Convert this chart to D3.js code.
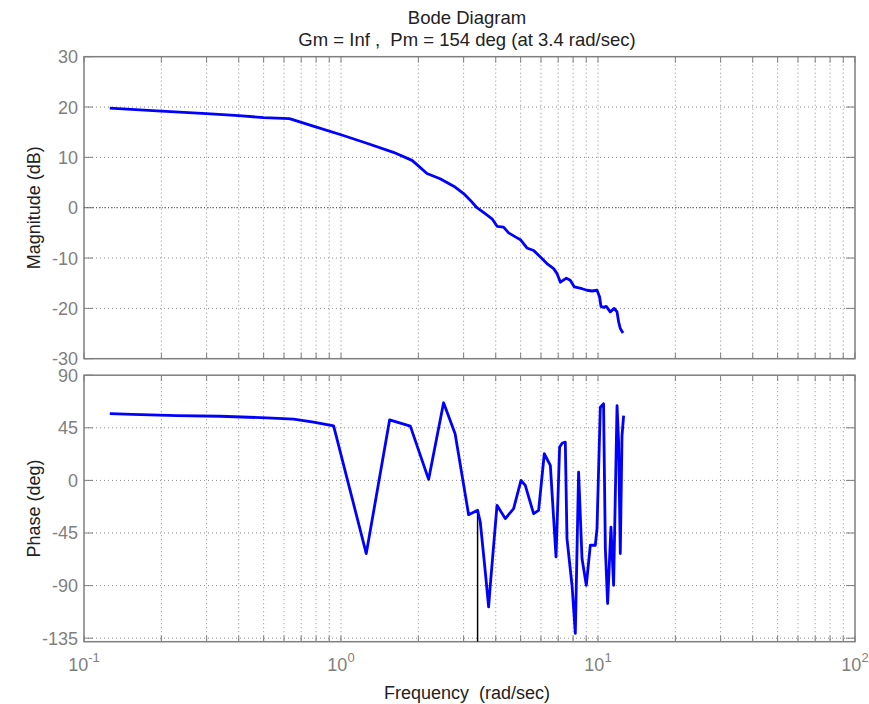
<!DOCTYPE html>
<html>
<head>
<meta charset="utf-8">
<script src="https://cdn.jsdelivr.net/npm/d3@7/dist/d3.min.js"></script>
<style>
  body { margin: 0; background: #fff; }
  svg text { font-family: "Liberation Sans", Arial, Helvetica, sans-serif; }
</style>
</head>
<body>
<div id="chart"></div>
<script>
// magnitude response (rad/sec, dB)
var magFreq = [0.126, 0.2, 0.3, 0.4, 0.5, 0.63, 0.78, 1.0, 1.26, 1.6, 1.89, 1.98, 2.16, 2.43, 2.78, 3.0,
  3.19, 3.38, 3.64, 3.87, 4.05, 4.29, 4.49, 4.77, 4.99, 5.29, 5.62, 5.97, 6.33, 6.72, 6.93, 7.14,
  7.53, 7.8, 8.09, 8.67, 9.06, 9.48, 9.91, 10.14, 10.27, 10.51, 10.77, 11.16, 11.57, 11.86, 12.03,
  12.21, 12.51];
var magDb = [19.8, 19.2, 18.7, 18.3, 17.9, 17.7, 16.2, 14.5, 12.8, 11.0, 9.4, 8.5, 6.8, 5.75, 4.1, 2.8,
  1.45, 0.0, -1.2, -2.2, -3.7, -3.85, -5.0, -5.8, -6.35, -8.0, -8.5, -9.8, -11.1, -12.1, -13.1, -14.8,
  -14.0, -14.4, -15.75, -16.1, -16.4, -16.55, -16.4, -17.7, -19.6, -19.8, -19.6, -20.7, -20.0, -20.7,
  -22.7, -24.0, -24.9];

// phase response (rad/sec, deg)
var phaseFreq = [0.126, 0.154, 0.23, 0.339, 0.515, 0.654, 0.782, 0.936, 1.254, 1.546, 1.861, 2.192,
  2.507, 2.78, 3.137, 3.401, 3.483, 3.643, 3.753, 3.81, 4.046, 4.358, 4.695, 5.016, 5.213, 5.616,
  5.874, 6.18, 6.525, 6.865, 7.09, 7.264, 7.46, 7.574, 7.923, 8.161, 8.404, 8.665, 9.005, 9.333,
  9.761, 9.91, 10.21, 10.51, 10.68, 10.9, 11.23, 11.5, 11.86, 12.03, 12.21, 12.4, 12.58];
var phaseDeg = [57.2, 56.4, 55.5, 54.9, 53.5, 52.4, 49.8, 46.7, -62.6, 51.8, 46.4, 0.85,
  66.4, 39.9, -29.3, -25.6, -35.6, -78.3, -108.2, -89.7, -21.3, -32.7, -24.2, 0, -4.3, -28.5,
  -25.6, 22.8, 12.8, -65.5, 28.5, 32, 32.7, -49.8, -89.7, -130.9, 7.1, -66.9, -89.7, -55.5,
  -55.5, -41.3, 62.6, 65.5, -58.3, -105.3, -39.9, -89.7, 64, 32.7, -62.6, 38.4, 55.5];

// stability margins
var crossFreq = 3.4;
var crossPhase = -26;

var magTicks = [-30, -20, -10, 0, 10, 20, 30];
var phaseTicks = [-135, -90, -45, 0, 45, 90];
var decades = [0.1, 1, 10, 100];
var decadeExp = ["-1", "0", "1", "2"];

var W = 869, H = 704;
var left = 84, right = 855;
var axisCol = "#7f7f7f";
var gridCol = "#8c8c8c";

var svg = d3.select("#chart").append("svg")
  .attr("width", W)
  .attr("height", H);

var x = d3.scaleLog().domain([0.1, 100]).range([left, right]);
var yMag = d3.scaleLinear().domain([-30, 30]).range([358.7, 56.7]);
var yPh = d3.scaleLinear().domain([-138, 90]).range([641.7, 375.2]);

var logTicks = x.ticks();

function panel(y, yTicks, fDat, vDat) {
  var top = y.range()[1], bottom = y.range()[0];
  var g = svg.append("g");

  // grid
  g.selectAll(".vgrid").data(logTicks.filter(function(d) { return d > 0.1 && d < 100; }))
    .enter().append("line")
    .attr("x1", function(d) { return x(d); })
    .attr("x2", function(d) { return x(d); })
    .attr("y1", top).attr("y2", bottom)
    .attr("stroke", gridCol).attr("stroke-width", 1)
    .attr("stroke-dasharray", "1,3");

  g.selectAll(".hgrid").data(yTicks.filter(function(d) { return y(d) > top + 1 && y(d) < bottom - 1; }))
    .enter().append("line")
    .attr("x1", left).attr("x2", right)
    .attr("y1", function(d) { return y(d); })
    .attr("y2", function(d) { return y(d); })
    .attr("stroke", gridCol).attr("stroke-width", 1)
    .attr("stroke-dasharray", "1,3");

  // ticks, inward on every side
  logTicks.forEach(function(d) {
    g.append("line").attr("x1", x(d)).attr("x2", x(d))
      .attr("y1", bottom).attr("y2", bottom - 6).attr("stroke", axisCol);
    g.append("line").attr("x1", x(d)).attr("x2", x(d))
      .attr("y1", top).attr("y2", top + 6).attr("stroke", axisCol);
  });
  yTicks.forEach(function(d) {
    g.append("line").attr("x1", left).attr("x2", left + 9)
      .attr("y1", y(d)).attr("y2", y(d)).attr("stroke", axisCol);
    g.append("line").attr("x1", right).attr("x2", right - 9)
      .attr("y1", y(d)).attr("y2", y(d)).attr("stroke", axisCol);
  });

  g.selectAll(".ylab").data(yTicks).enter().append("text")
    .attr("x", left - 6)
    .attr("y", function(d) { return y(d); })
    .attr("dy", "0.36em")
    .attr("text-anchor", "end")
    .attr("font-size", 18)
    .attr("fill", axisCol)
    .text(function(d) { return d; });

  // box
  g.append("rect")
    .attr("x", left).attr("y", top)
    .attr("width", right - left).attr("height", bottom - top)
    .attr("fill", "none").attr("stroke", axisCol).attr("stroke-width", 1.5);

  var line = d3.line()
    .x(function(d) { return x(d[0]); })
    .y(function(d) { return y(d[1]); });

  return { g: g, line: line, data: d3.zip(fDat, vDat) };
}

var mag = panel(yMag, magTicks, magFreq, magDb);
var ph = panel(yPh, phaseTicks, phaseFreq, phaseDeg);

// 0 dB reference line
mag.g.append("line")
  .attr("x1", left).attr("x2", right)
  .attr("y1", yMag(0)).attr("y2", yMag(0))
  .attr("stroke", "#555").attr("stroke-width", 1)
  .attr("stroke-dasharray", "1,2");

// phase margin marker
ph.g.append("line")
  .attr("x1", x(crossFreq)).attr("x2", x(crossFreq))
  .attr("y1", yPh(crossPhase)).attr("y2", yPh(-138))
  .attr("stroke", "#000").attr("stroke-width", 1.5);

mag.g.append("path").datum(mag.data)
  .attr("d", mag.line)
  .attr("fill", "none").attr("stroke", "#0000ff")
  .attr("stroke-width", 2.8).attr("stroke-linejoin", "round");

ph.g.append("path").datum(ph.data)
  .attr("d", ph.line)
  .attr("fill", "none").attr("stroke", "#0000ff")
  .attr("stroke-width", 2.8).attr("stroke-linejoin", "round");

// x tick labels 10^n
decades.forEach(function(d, i) {
  var t = svg.append("text")
    .attr("x", x(d))
    .attr("y", 671)
    .attr("text-anchor", "middle")
    .attr("fill", axisCol)
    .attr("font-size", 18);
  t.append("tspan").text("10");
  t.append("tspan").attr("dy", -9).attr("font-size", 13).text(decadeExp[i]);
});

// titles and labels
svg.append("text")
  .attr("x", 467).attr("y", 24)
  .attr("text-anchor", "middle")
  .attr("font-size", 18.5).attr("fill", "#222")
  .text("Bode Diagram");

svg.append("text")
  .attr("x", 467).attr("y", 46)
  .attr("text-anchor", "middle")
  .attr("font-size", 18.5).attr("fill", "#222")
  .style("white-space", "pre")
  .text("Gm = Inf ,  Pm = 154 deg (at 3.4 rad/sec)");

svg.append("text")
  .attr("transform", "translate(40," + ((56.7 + 358.7) / 2) + ") rotate(-90)")
  .attr("text-anchor", "middle")
  .attr("font-size", 18).attr("fill", "#222")
  .text("Magnitude (dB)");

svg.append("text")
  .attr("transform", "translate(40," + ((375.2 + 641.7) / 2) + ") rotate(-90)")
  .attr("text-anchor", "middle")
  .attr("font-size", 18).attr("fill", "#222")
  .text("Phase (deg)");

svg.append("text")
  .attr("x", 467).attr("y", 699)
  .attr("text-anchor", "middle")
  .attr("font-size", 18).attr("fill", "#222")
  .style("white-space", "pre")
  .text("Frequency  (rad/sec)");
</script>
</body>
</html>
